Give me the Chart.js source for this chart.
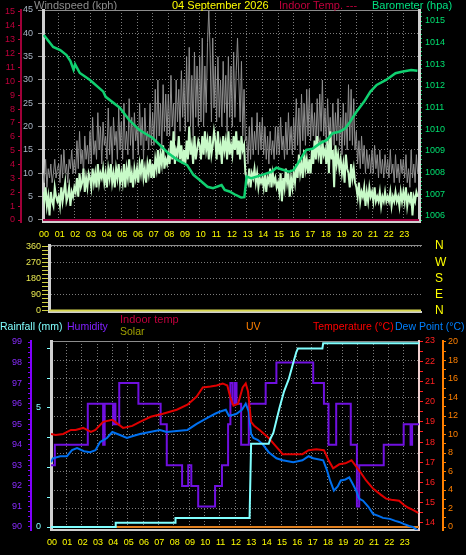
<!DOCTYPE html>
<html>
<head>
<meta charset="utf-8">
<title>Weather 04 September 2026</title>
<script src="https://cdn.jsdelivr.net/npm/chart.js@4.4.1/dist/chart.umd.min.js"></script>
<style>
  html, body { margin: 0; padding: 0; background: #000; }
  body { position: relative; width: 466px; height: 555px; overflow: hidden; font-family: 'Liberation Sans', Arial, sans-serif; }
  canvas { position: absolute; left: 0; }
  .lbl { position: absolute; white-space: nowrap; font-size: 11px; line-height: 13px; }
  .leg { position: absolute; white-space: nowrap; font-size: 10.5px; line-height: 12px; }
</style>
</head>
<body>
<canvas id="windChart" width="466" height="245" style="top:0px"></canvas>
<canvas id="dirChart" width="466" height="80" style="top:238px"></canvas>
<canvas id="tempChart" width="466" height="240" style="top:315px"></canvas>

<div class="lbl" style="left:34px;top:-1px;color:#8c8c8c">Windspeed (kph)</div>
<div class="lbl" style="left:172px;top:-1px;color:#ffff00">04 September 2026</div>
<div class="lbl" style="left:279px;top:-1px;color:#c0003c">Indoor Temp. ---</div>
<div class="lbl" style="left:372px;top:-1px;color:#00e080">Barometer (hpa)</div>

<div class="leg" style="left:0px;top:320px;color:#80ffff">Rainfall (mm)</div>
<div class="leg" style="left:67px;top:320px;color:#8020ff">Humidity</div>
<div class="leg" style="left:120px;top:313px;color:#c0003c;font-size:11px">Indoor temp</div>
<div class="leg" style="left:120px;top:325px;color:#a0a000">Solar</div>
<div class="leg" style="left:246px;top:320px;color:#ff8000">UV</div>
<div class="leg" style="left:313px;top:320px;color:#ff0000">Temperature (°C)</div>
<div class="leg" style="left:395px;top:320px;color:#0080ff">Dew Point (°C)</div>

<script>
// ---------- top panel: wind (kph), 12 samples per hour, one row per hour 00..23
const gustByHour = [
  [10, 8, 13, 7, 11, 9, 12, 8, 10, 13, 9, 11],
  [12, 8, 14, 9, 15, 10, 12, 8, 13, 11, 15, 10],
  [13, 10, 17, 11, 19, 12, 15, 10, 18, 13, 16, 12],
  [19, 12, 22, 14, 17, 13, 23, 15, 20, 12, 21, 16],
  [18, 13, 24, 14, 20, 12, 22, 16, 19, 13, 24, 15],
  [21, 13, 25, 15, 19, 14, 26, 16, 22, 13, 23, 17],
  [20, 14, 25, 16, 22, 13, 24, 17, 19, 15, 25, 16],
  [23, 16, 28, 17, 30, 18, 25, 15, 29, 19, 27, 18],
  [27, 18, 31, 20, 25, 17, 30, 21, 28, 19, 32, 22],
  [30, 19, 35, 21, 37, 20, 31, 18, 36, 22, 33, 20],
  [35, 21, 39, 20, 33, 23, 38, 45, 36, 21, 39, 24],
  [33, 21, 35, 22, 30, 20, 34, 23, 31, 19, 35, 22],
  [33, 20, 36, 22, 32, 39, 30, 21, 34, 18, 28, 17],
  [18, 12, 20, 13, 22, 14, 19, 15, 23, 14, 21, 15],
  [22, 14, 20, 13, 18, 12, 19, 14, 17, 13, 20, 14],
  [20, 14, 22, 15, 18, 13, 21, 14, 23, 15, 20, 14],
  [22, 15, 26, 16, 24, 14, 27, 17, 25, 16, 28, 18],
  [28, 17, 25, 18, 23, 15, 26, 17, 27, 19, 30, 18],
  [24, 16, 26, 17, 22, 15, 25, 16, 23, 17, 26, 16],
  [22, 14, 25, 16, 23, 15, 29, 17, 28, 16, 26, 15],
  [19, 12, 17, 11, 18, 12, 16, 10, 15, 11, 14, 10],
  [15, 10, 16, 11, 14, 9, 15, 10, 13, 9, 14, 10],
  [13, 9, 15, 10, 12, 8, 14, 9, 12, 8, 13, 10],
  [13, 9, 14, 8, 11, 7, 15, 9, 12, 8, 14, 10],
];
const avgByHour = [
  [6, 4, 7, 3, 5, 1, 6, 4, 3, 7, 5, 4],
  [5, 3, 7, 4, 6, 8, 4, 5, 7, 3, 6, 5],
  [7, 6, 9, 5, 10, 7, 8, 11, 6, 9, 7, 10],
  [9, 7, 11, 8, 10, 7, 12, 8, 10, 9, 11, 8],
  [10, 7, 11, 9, 12, 8, 10, 7, 11, 9, 12, 8],
  [10, 8, 12, 7, 11, 9, 13, 8, 10, 7, 11, 9],
  [11, 8, 12, 10, 13, 9, 11, 8, 12, 10, 13, 9],
  [12, 9, 13, 11, 15, 10, 14, 12, 16, 11, 13, 12],
  [14, 12, 17, 13, 19, 12, 15, 14, 18, 13, 16, 12],
  [15, 12, 17, 13, 20, 14, 16, 12, 18, 13, 15, 17],
  [16, 13, 18, 14, 19, 15, 17, 13, 18, 14, 16, 19],
  [17, 13, 19, 14, 16, 12, 18, 15, 17, 13, 19, 14],
  [16, 14, 18, 15, 19, 14, 17, 13, 18, 15, 16, 10],
  [9, 8, 11, 7, 10, 9, 11, 8, 10, 7, 9, 8],
  [9, 7, 10, 6, 9, 8, 11, 7, 10, 8, 9, 7],
  [8, 6, 10, 4, 9, 7, 11, 8, 10, 5, 9, 7],
  [10, 8, 12, 9, 14, 10, 12, 9, 15, 11, 13, 10],
  [13, 10, 15, 12, 17, 13, 18, 14, 16, 12, 17, 14],
  [15, 12, 17, 10, 19, 13, 15, 7, 16, 12, 14, 11],
  [13, 10, 12, 8, 14, 11, 10, 7, 12, 9, 11, 8],
  [7, 5, 8, 4, 6, 5, 7, 3, 6, 4, 7, 5],
  [6, 4, 7, 4, 5, 4, 6, 3, 5, 4, 6, 4],
  [5, 4, 6, 3, 5, 4, 6, 4, 5, 3, 6, 4],
  [6, 4, 7, 3, 5, 4, 6, 1, 5, 4, 6, 5],
];
const baroHours = [0.05, 0.65, 1.1, 1.5, 1.75, 1.95, 2.05, 2.35, 3.0, 3.85, 4.0, 4.9, 5.5, 6.15, 7.0, 7.65, 8.0, 8.6, 9.2, 9.6, 10.0, 10.5, 10.85, 11.4, 11.6, 11.9, 12.3, 12.65, 12.85, 13.0, 13.3, 14.0, 14.6, 14.9, 15.7, 16.0, 16.4, 16.8, 17.2, 17.7, 18.1, 18.5, 18.95, 19.3, 19.6, 20.0, 20.5, 20.9, 21.3, 21.9, 22.5, 22.9, 23.5, 23.9];
const baroHpa = [1014.35, 1013.8, 1013.66, 1013.43, 1013.15, 1012.75, 1013.0, 1012.6, 1012.28, 1011.74, 1011.5, 1011.0, 1010.43, 1009.97, 1009.6, 1009.14, 1008.9, 1008.58, 1008.35, 1007.9, 1007.66, 1007.35, 1007.28, 1007.43, 1007.2, 1007.13, 1006.97, 1006.85, 1006.87, 1007.82, 1007.74, 1007.9, 1008.05, 1008.23, 1008.05, 1008.12, 1008.58, 1009.05, 1009.1, 1009.36, 1009.5, 1009.82, 1009.9, 1010.05, 1010.35, 1010.8, 1011.28, 1011.74, 1012.05, 1012.28, 1012.59, 1012.66, 1012.74, 1012.7];
const indoorHours = [0, 24];
const indoorTemp = [0, 0];

// ---------- middle panel: wind direction (no direction logged, sits on 0)
const dirHours = [0, 24];
const windDir = [0, 0];

// ---------- bottom panel
const tempHours = [0, 0.3, 0.8, 1.3, 1.6, 2.1, 2.6, 2.9, 3.4, 4.0, 4.7, 5.3, 5.8, 6.5, 7.3, 8.2, 8.9, 9.5, 9.9, 10.4, 10.8, 11.2, 11.5, 11.7, 11.9, 12.2, 12.5, 12.7, 12.85, 13.05, 13.25, 13.6, 13.9, 14.2, 14.6, 15.0, 15.1, 15.8, 16.4, 16.8, 17.3, 17.8, 18.1, 18.4, 18.8, 19.2, 19.6, 19.8, 20.1, 20.55, 21.0, 21.5, 21.85, 22.2, 22.7, 23.0, 23.3, 23.6, 23.95];
const tempC = [18.4, 18.35, 18.4, 18.6, 18.6, 18.7, 18.5, 18.6, 19.0, 19.1, 18.7, 18.8, 19.0, 19.25, 19.4, 19.6, 19.85, 20.25, 20.7, 20.75, 20.8, 20.9, 20.8, 20.2, 19.8, 19.9, 20.7, 20.9, 20.5, 19.0, 18.8, 18.6, 18.4, 18.2, 17.85, 17.5, 17.4, 17.4, 17.4, 17.6, 17.65, 17.6, 17.1, 16.7, 16.9, 16.95, 17.1, 16.9, 16.6, 16.1, 15.7, 15.4, 15.2, 15.15, 15.1, 14.9, 14.75, 14.65, 14.5];
const dewHours = [0, 0.13, 0.6, 1.04, 1.37, 1.7, 2.15, 2.55, 2.9, 3.2, 3.65, 4.0, 4.5, 4.95, 5.35, 5.8, 6.45, 7.1, 7.55, 8.2, 8.9, 9.5, 10.2, 10.7, 11.0, 11.4, 11.6, 11.9, 12.1, 12.45, 12.7, 12.9, 13.05, 13.2, 13.5, 13.8, 14.2, 14.7, 15.1, 15.8, 16.4, 16.8, 17.1, 17.75, 18.0, 18.2, 18.45, 18.7, 18.9, 19.2, 19.45, 19.7, 19.9, 20.1, 20.35, 20.7, 21.0, 21.35, 21.65, 22.1, 22.45, 22.7, 23.0, 23.35, 23.6, 23.95];
const dewC = [17.0, 17.2, 17.3, 17.3, 17.6, 17.7, 17.55, 17.5, 17.6, 18.0, 18.2, 18.5, 18.35, 18.2, 18.3, 18.4, 18.5, 18.6, 18.5, 18.55, 18.6, 18.9, 19.2, 19.4, 19.5, 19.6, 19.3, 19.35, 19.4, 19.6, 19.9, 19.5, 18.4, 18.2, 18.1, 17.9, 17.5, 17.2, 17.1, 17.0, 17.1, 17.3, 17.2, 17.1, 16.6, 16.1, 15.6, 15.8, 16.1, 16.15, 16.25, 15.9, 15.6, 15.2, 15.1, 14.8, 14.45, 14.35, 14.25, 14.2, 14.1, 14.05, 13.95, 13.85, 13.8, 13.6];
const humHours = [0, 0.25, 2.4, 3.4, 3.5, 4.05, 4.15, 4.2, 4.45, 5.7, 7.15, 7.55, 8.55, 8.95, 9.15, 9.6, 10.7, 11.15, 11.55, 11.7, 11.85, 12.0, 12.1, 12.4, 12.9, 14.0, 14.7, 17.1, 17.8, 18.1, 18.6, 19.55, 19.95, 20.1, 21.7, 23.0, 23.45, 23.55, 24];
const humidity = [93, 94, 96, 94, 96, 95, 96, 95, 97, 96, 95, 93, 92, 93, 92, 91, 92, 93, 95, 97, 96, 97, 96, 94, 96, 97, 98, 97, 96, 94, 96, 94, 91, 93, 94, 95, 94, 95, 95];
const rainHours = [0, 4.2, 4.22, 8.1, 8.12, 12.95, 13.05, 14.2, 14.3, 14.5, 14.9, 15.2, 15.5, 15.8, 16.0, 16.1, 17.7, 17.75, 24];
const rainMm = [0, 0, 0.18, 0.18, 0.38, 0.38, 3.5, 3.5, 3.7, 3.95, 5.0, 5.7, 6.2, 6.9, 7.35, 7.5, 7.5, 7.72, 7.72];
const uvHours = [0, 24];
const uvIndex = [0, 0];
const solarHours = [0, 24];
const solarWm2 = [0, 0];

// ---------- tick labels
const hourTicks = [0, 1, 2, 3, 4, 5, 6, 7, 8, 9, 10, 11, 12, 13, 14, 15, 16, 17, 18, 19, 20, 21, 22, 23, 24];
const hourLabels = ['00', '01', '02', '03', '04', '05', '06', '07', '08', '09', '10', '11', '12', '13', '14', '15', '16', '17', '18', '19', '20', '21', '22', '23'];
const windLabels = [0, 5, 10, 15, 20, 25, 30, 35, 40, 45];
const indoorLabels = [0, 1, 2, 3, 4, 5, 6, 7, 8, 9, 10, 11, 12, 13, 14, 15];
const baroLabels = [1006, 1007, 1008, 1009, 1010, 1011, 1012, 1013, 1014, 1015];
const dirLabels = [0, 90, 180, 270, 360];
const dirNames = ['N', 'E', 'S', 'W', 'N'];
const humLabels = [90, 91, 92, 93, 94, 95, 96, 97, 98, 99];
const rainTicks = [0, 1.25, 2.5, 3.75, 5, 6.25, 7.5];
const rainLabels = [0, 5];
const tempLabels = [14, 15, 16, 17, 18, 19, 20, 21, 22, 23];
const uvLabels = [0, 2, 4, 6, 8, 10, 12, 14, 16, 18, 20];

const GRID = '#7c7c7c';
const CLEAR = 'rgba(0,0,0,0)';
const YELLOW = '#ffff00';
const MAROON = '#c0003c';
const GREEN = '#00e070';
const FRAME = '#d0d0d0';
const tickFont = { size: 9, lineHeight: 1 };

Chart.defaults.font.family = "'Liberation Sans', Arial, sans-serif";

function pts(xs, ys) { return ys.map((y, i) => ({ x: xs[i], y })); }
function hourly(rows) {
  const out = [];
  rows.forEach((row, h) => row.forEach((v, k) => out.push({ x: h + k / row.length, y: v })));
  return out;
}
function steps(from, to, step) {
  const a = [];
  for (let v = from; v <= to + 1e-9; v += step) a.push(Math.round(v * 100) / 100);
  return a;
}
function fixTicks(list) { return s => { s.ticks = list.map(v => ({ value: v })); }; }
function onlyLabels(list) { return v => (list.includes(v) ? String(v) : ''); }

const baseOpts = {
  responsive: false,
  animation: false,
  events: [],
  plugins: { legend: { display: false }, tooltip: { enabled: false } },
  elements: { point: { radius: 0 }, line: { tension: 0, borderCapStyle: 'butt' } },
};

function hourAxis(h, withLabels) {
  return {
    type: 'linear', min: 0, max: 24,
    afterBuildTicks: fixTicks(hourTicks),
    afterFit: s => { s.height = h; },
    grid: { color: c => (c.tick && (c.tick.value === 0 || c.tick.value === 24) ? CLEAR : GRID), drawTicks: false, display: withLabels },
    border: { color: FRAME, width: 2, dash: [1, 2] },
    ticks: { display: withLabels, color: YELLOW, font: tickFont, padding: 8, labelOffset: 1, autoSkip: false, maxRotation: 0, callback: v => hourLabels[v] ?? '' },
  };
}
function topFrame() {
  return {
    type: 'linear', position: 'top', min: 0, max: 24,
    ticks: { display: false }, grid: { display: false },
    border: { color: '#8c8c8c', width: 1 },
    afterFit: s => { s.height = 0; },
  };
}

// ---------- wind chart
new Chart(document.getElementById('windChart'), {
  type: 'line',
  data: {
    datasets: [
      { data: pts(indoorHours, indoorTemp), yAxisID: 'yIn', borderColor: '#a00040', borderWidth: 2, order: 0 },
      { data: pts(baroHours, baroHpa), yAxisID: 'yBaro', borderColor: '#10d070', borderWidth: 2.5, order: 1 },
      { data: hourly(avgByHour), yAxisID: 'yWind', borderColor: '#c8fac8', borderWidth: 2, order: 2 },
      { data: hourly(gustByHour), yAxisID: 'yWind', borderColor: '#8e8e8e', borderWidth: 1, order: 3 },
    ],
  },
  options: {
    ...baseOpts,
    layout: { padding: { top: 10, left: 0, right: 0, bottom: 0 } },
    scales: {
      x: hourAxis(23, true),
      xTop: topFrame(),
      yIn: {
        position: 'left', weight: 1, min: -0.144, max: 15.14,
        afterBuildTicks: fixTicks(indoorLabels), afterFit: s => { s.width = 21; },
        grid: { drawOnChartArea: false, color: MAROON, tickLength: 3 },
        border: { color: '#a00038', width: 2 },
        ticks: { color: MAROON, font: tickFont, padding: 3, autoSkip: false },
      },
      yWind: {
        position: 'left', weight: 0, min: -0.43, max: 45,
        afterBuildTicks: fixTicks(windLabels), afterFit: s => { s.width = 22; },
        grid: { color: GRID, tickColor: '#8c8c8c', tickLength: 5 },
        border: { color: FRAME, width: 3, dash: [1, 2] },
        ticks: { color: '#a8b4c4', font: tickFont, padding: 5, autoSkip: false },
      },
      yBaro: {
        position: 'right', min: 1005.723, max: 1015.508,
        afterBuildTicks: fixTicks(steps(1005.8, 1015.4, 0.2)), afterFit: s => { s.width = 47; },
        grid: { drawOnChartArea: false, color: GREEN, tickLength: 3 },
        border: { color: FRAME, width: 3 },
        ticks: { color: GREEN, font: tickFont, padding: 3, autoSkip: false, callback: onlyLabels(baroLabels) },
      },
    },
  },
});

// ---------- wind direction chart
new Chart(document.getElementById('dirChart'), {
  type: 'line',
  data: {
    datasets: [
      { data: pts(dirHours, windDir), yAxisID: 'yDir', borderColor: '#d8d850', borderWidth: 2 },
    ],
  },
  options: {
    ...baseOpts,
    layout: { padding: { top: 7, left: 0, right: 0, bottom: 6 } },
    scales: {
      x: hourAxis(0, false),
      xTop: topFrame(),
      yDir: {
        position: 'left', min: -8, max: 366,
        afterBuildTicks: fixTicks(steps(0, 360, 22.5)), afterFit: s => { s.width = 49; },
        grid: { color: c => (c.tick && c.tick.value > 0 && dirLabels.includes(c.tick.value) ? GRID : CLEAR), tickColor: '#d0d040', tickLength: 7 },
        border: { color: FRAME, width: 3, dash: [1, 2] },
        ticks: { color: '#e8e850', font: tickFont, padding: 1, autoSkip: false, callback: onlyLabels(dirLabels) },
      },
      yDirR: {
        position: 'right', min: -8, max: 366,
        afterBuildTicks: fixTicks(dirLabels), afterFit: s => { s.width = 45; },
        grid: { drawOnChartArea: false, color: CLEAR, tickLength: 14 },
        border: { display: false },
        ticks: { color: YELLOW, font: { size: 12, lineHeight: 1 }, padding: 0, autoSkip: false,
          callback: v => { const i = dirLabels.indexOf(v); return i >= 0 ? dirNames[i] : ''; } },
      },
    },
  },
});

// ---------- temperature / humidity / rain chart
new Chart(document.getElementById('tempChart'), {
  type: 'line',
  data: {
    datasets: [
      { data: pts(rainHours, rainMm), yAxisID: 'yRain', borderColor: '#80ffff', borderWidth: 2, order: 0 },
      { data: pts(tempHours, tempC), yAxisID: 'yTemp', borderColor: '#e00000', borderWidth: 2, order: 1 },
      { data: pts(dewHours, dewC), yAxisID: 'yTemp', borderColor: '#0070f0', borderWidth: 2, order: 2 },
      { data: pts(humHours, humidity), yAxisID: 'yHum', borderColor: '#7010e0', borderWidth: 2, stepped: 'before', order: 3 },
      { data: pts(uvHours, uvIndex), yAxisID: 'yUV', borderColor: '#e08020', borderWidth: 2, order: 4 },
      { data: pts(solarHours, solarWm2), yAxisID: 'ySolar', borderColor: '#808000', borderWidth: 2, order: 5 },
    ],
  },
  options: {
    ...baseOpts,
    layout: { padding: { top: 26, left: 0, right: 0, bottom: 0 } },
    scales: {
      x: hourAxis(25, true),
      xTop: topFrame(),
      yHum: {
        position: 'left', weight: 1, min: 89.854, max: 99.049,
        afterBuildTicks: fixTicks(steps(90, 99, 0.25)), afterFit: s => { s.width = 31; },
        grid: { drawOnChartArea: false, color: '#8000ff', tickLength: 3 },
        border: { color: '#8000ff', width: 2 },
        ticks: { color: '#8a2cff', font: tickFont, padding: 6, autoSkip: false, callback: onlyLabels(humLabels) },
      },
      yRain: {
        position: 'left', weight: 0, min: -0.126, max: 7.815,
        afterBuildTicks: fixTicks(rainTicks), afterFit: s => { s.width = 20; },
        grid: { drawOnChartArea: false, color: '#80ffff', tickLength: 4 },
        border: { color: FRAME, width: 3 },
        ticks: { color: '#80ffff', font: tickFont, padding: 6, autoSkip: false, callback: onlyLabels(rainLabels) },
      },
      yTemp: {
        position: 'right', weight: 0, min: 13.65, max: 23.0,
        afterBuildTicks: fixTicks(steps(14, 23, 0.5)), afterFit: s => { s.width = 24; },
        grid: { drawOnChartArea: false, color: '#ff2020', tickLength: 4 },
        border: { color: '#f0d0d0', width: 2 },
        ticks: { color: '#ff2020', font: tickFont, padding: 2, autoSkip: false, callback: onlyLabels(tempLabels) },
      },
      yUV: {
        position: 'right', weight: 1, min: -0.324, max: 20.108,
        afterBuildTicks: fixTicks(steps(0, 20, 1)), afterFit: s => { s.width = 23; },
        grid: { color: c => (c.tick && c.tick.value > 0 && uvLabels.includes(c.tick.value) ? GRID : CLEAR), tickColor: '#ff8000', tickLength: 3 },
        border: { color: '#ff8000', width: 2, dash: [1, 2] },
        ticks: { color: '#ff8000', font: tickFont, padding: 2, autoSkip: false, callback: onlyLabels(uvLabels) },
      },
      ySolar: { display: false, min: -16, max: 1005 },
    },
  },
});
</script>
</body>
</html>
